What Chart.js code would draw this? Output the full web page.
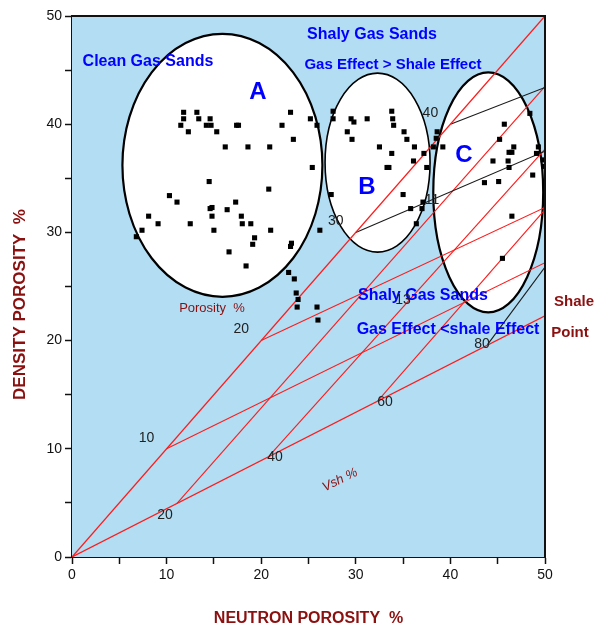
<!DOCTYPE html>
<html>
<head>
<meta charset="utf-8">
<script src="https://cdn.jsdelivr.net/npm/chart.js@4/dist/chart.umd.min.js"></script>
<style>
  html, body { margin: 0; padding: 0; background: #ffffff; }
  #wrap { width: 597px; height: 631px; }
</style>
</head>
<body>
<div id="wrap"><canvas id="chart" width="597" height="631"></canvas></div>
<script>
// Neutron vs density porosity crossplot (values in porosity %)

// Sample points, [neutron, density]
const zoneA = [
  [11.8,41.1],[11.8,40.5],[11.5,39.9],[12.3,39.3],[13.2,41.1],[13.4,40.5],[14.2,39.9],[14.6,40.5],
  [14.7,39.9],[15.3,39.3],[17.4,39.9],[17.6,39.9],[16.2,37.9],[18.6,37.9],[20.9,37.9],[22.2,39.9],
  [23.1,41.1],[23.4,38.6],[25.2,40.5],[25.9,39.9],[25.4,36.0],[14.5,34.7],[20.8,34.0],[10.3,33.4],
  [11.1,32.8],[17.3,32.8],[14.6,32.2],[14.8,32.3],[16.4,32.1],[14.8,31.5],[8.1,31.5],[9.1,30.8],
  [12.5,30.8],[17.9,31.5],[18.0,30.8],[18.9,30.8],[7.4,30.2],[6.8,29.6],[15.0,30.2],[21.0,30.2],
  [19.3,29.5],[19.1,28.9],[23.2,29.0],[23.1,28.7],[16.6,28.2],[18.4,26.9],[22.9,26.3],[23.5,25.7],
  [26.2,30.2],[23.7,24.4],[23.9,23.8],[23.8,23.1],[25.9,23.1],[26.0,21.9]
];
const zoneB = [
  [27.6,41.2],[27.6,40.5],[29.5,40.5],[29.8,40.2],[31.2,40.5],[33.8,41.2],[33.9,40.5],[34.0,39.9],
  [29.1,39.3],[29.6,38.6],[35.1,39.3],[35.4,38.6],[32.5,37.9],[36.2,37.9],[33.8,37.3],[37.2,37.3],
  [36.1,36.6],[33.3,36.0],[33.5,36.0],[37.5,36.0],[27.4,33.5],[35.0,33.5],[35.8,32.2],[37.0,32.2],
  [37.1,32.8],[36.4,30.8]
];
const zoneC = [
  [38.6,39.3],[38.5,38.7],[38.2,37.9],[39.2,37.9],[48.4,41.0],[45.7,40.0],[45.2,38.6],[46.7,37.9],
  [46.2,37.4],[46.5,37.4],[44.5,36.6],[46.1,36.6],[46.2,36.0],[49.3,37.9],[49.1,37.3],[49.8,36.7],
  [49.9,36.1],[48.7,35.3],[43.6,34.6],[45.1,34.7],[46.5,31.5],[45.5,27.6]
];

// Clean sand line and shale line, [neutron, density] end points
const cleanLine = [[0, 0], [50, 50]];
const shaleLine = [[0, 0], [50, 22.3]];

// Constant porosity lines: start on the clean line, end at neutron 50
const porosityValues = [10, 20, 30, 40];
const porosityEndDensity = [27.2, 32.3, 37.5, 43.4];

// Constant shale volume lines: start on the shale line, end at neutron 50
const vshValues = [20, 40, 60, 80];
const vshStartNeutron = [11.1, 20.8, 32.3, 43.9];
const vshStartDensity = [4.95, 9.3, 14.4, 19.6];
const vshEndDensity = [43.5, 37.7, 32.1, 26.8];

// Interpreted zones: name, centre and half-axes in porosity units
const zoneNames = ['A', 'B', 'C'];
const zoneCentres = [[15.9, 36.2], [32.3, 36.45], [44.0, 33.7]];
const zoneHalfAxes = [[10.57, 12.15], [5.55, 8.27], [5.81, 11.09]];

// Axis tick labels
const tickValues = [0, 10, 20, 30, 40, 50];

const RED = '#ff1a1a';
const BLACK = '#1a1a1a';
const BLUE = '#0000ff';
const DARKRED = '#8b1010';
const FONT = "'Liberation Sans', Arial, sans-serif";

const toPts = arr => arr.map(p => ({ x: p[0], y: p[1] }));
const lineSet = (pts, color, width) => ({
  type: 'line', data: toPts(pts), showLine: true, borderColor: color, borderWidth: width,
  pointRadius: 0, pointHoverRadius: 0, fill: false, tension: 0, order: 2
});

const datasets = [];
['zoneA', 'zoneB', 'zoneC'].forEach((name, i) => {
  datasets.push({
    type: 'scatter', label: name, data: toPts([zoneA, zoneB, zoneC][i]),
    pointStyle: 'rect', pointRadius: 3.6, backgroundColor: '#000', borderWidth: 0, order: 0
  });
});
datasets.push(lineSet(cleanLine, RED, 1.3));
datasets.push(lineSet(shaleLine, RED, 1.2));
porosityValues.forEach((phi, i) => {
  datasets.push(lineSet([[phi, phi], [50, porosityEndDensity[i]]], phi >= 30 ? BLACK : RED, 1.1));
});
vshValues.forEach((v, i) => {
  datasets.push(lineSet([[vshStartNeutron[i], vshStartDensity[i]], [50, vshEndDensity[i]]], v >= 80 ? BLACK : RED, 1.1));
});

// Plot background, zone ellipses and frame
const backdrop = {
  id: 'backdrop',
  beforeDatasetsDraw(chart) {
    const { ctx, chartArea: a, scales: { x, y } } = chart;
    ctx.save();
    ctx.fillStyle = '#b2ddf3';
    ctx.fillRect(a.left, a.top, a.right - a.left, a.bottom - a.top);
    zoneCentres.forEach((c, i) => {
      const cx = x.getPixelForValue(c[0]);
      const cy = y.getPixelForValue(c[1]);
      const rx = Math.abs(x.getPixelForValue(c[0] + zoneHalfAxes[i][0]) - cx);
      const ry = Math.abs(y.getPixelForValue(c[1] + zoneHalfAxes[i][1]) - cy);
      ctx.beginPath();
      ctx.ellipse(cx, cy, rx, ry, 0, 0, Math.PI * 2);
      ctx.fillStyle = '#ffffff';
      ctx.fill();
      ctx.lineWidth = i === 1 ? 1.6 : 2.2;
      ctx.strokeStyle = '#000';
      ctx.stroke();
    });
    ctx.restore();
  },
  afterDraw(chart) {
    const { ctx, chartArea: a } = chart;
    ctx.save();
    ctx.strokeStyle = '#111';
    ctx.lineWidth = 2;
    ctx.beginPath();
    ctx.moveTo(a.left, a.top); ctx.lineTo(a.right, a.top); ctx.lineTo(a.right, a.bottom);
    ctx.stroke();
    // vertical axis title, centred a little below the middle of the axis
    ctx.translate(20, (a.top + a.bottom) / 2 + 18);
    ctx.rotate(-Math.PI / 2);
    ctx.font = 'bold 17px ' + FONT;
    ctx.fillStyle = DARKRED;
    ctx.textAlign = 'center';
    ctx.textBaseline = 'middle';
    ctx.fillText('DENSITY POROSITY  %', 0, 0);
    ctx.restore();
  }
};

// Text labels placed in data units
const notes = [
  { t: 'Clean Gas Sands', x: 8.03, y: 45.75, font: 'bold 16px', color: BLUE },
  { t: 'A', x: 19.66, y: 42.9, font: 'bold 24px', color: BLUE },
  { t: 'Shaly Gas Sands', x: 31.71, y: 48.24, font: 'bold 16px', color: BLUE },
  { t: 'Gas Effect > Shale Effect', x: 33.93, y: 45.47, font: 'bold 15px', color: BLUE },
  { t: 'B', x: 31.18, y: 34.14, font: 'bold 24px', color: BLUE },
  { t: 'C', x: 41.44, y: 37.15, font: 'bold 24px', color: BLUE },
  { t: 'Shaly Gas Sands', x: 37.1, y: 24.12, font: 'bold 16px', color: BLUE },
  { t: 'Gas Effect <shale Effect', x: 39.75, y: 20.98, font: 'bold 16px', color: BLUE },
  { t: 'Shale', x: 53.07, y: 23.57, font: 'bold 15px', color: DARKRED },
  { t: 'Point', x: 52.64, y: 20.7, font: 'bold 15px', color: DARKRED },
  { t: 'Porosity  %', x: 14.8, y: 23.01, font: '13px', color: DARKRED },
  { t: 'Vsh %', x: 28.33, y: 7.12, font: 'italic 13px', color: DARKRED, rot: -0.45 },
  { t: '11', x: 38.05, y: 32.99, font: '14px', color: '#222' },
  { t: '13', x: 34.99, y: 23.75, font: '14px', color: '#222' }
];
// porosity labels beside the clean line, shale volume labels along the shale line
const phiLabelOffset = [-20, -11];
const vshLabelPos = [[9.83, 3.88], [21.46, 9.24], [33.09, 14.33], [43.34, 19.69]];

const labels = {
  id: 'labels',
  afterDatasetsDraw(chart) {
    const { ctx, scales: { x, y } } = chart;
    ctx.save();
    ctx.textAlign = 'center';
    ctx.textBaseline = 'middle';
    const put = (t, px, py, font, color, rot) => {
      ctx.save();
      ctx.translate(px, py);
      if (rot) ctx.rotate(rot);
      ctx.font = font + ' ' + FONT;
      ctx.fillStyle = color;
      ctx.fillText(t, 0, 0);
      ctx.restore();
    };
    porosityValues.forEach(phi => {
      put(String(phi), x.getPixelForValue(phi) + phiLabelOffset[0], y.getPixelForValue(phi) + phiLabelOffset[1], '14px', '#222');
    });
    vshValues.forEach((v, i) => {
      put(String(v), x.getPixelForValue(vshLabelPos[i][0]), y.getPixelForValue(vshLabelPos[i][1]), '14px', '#222');
    });
    notes.forEach(n => put(n.t, x.getPixelForValue(n.x), y.getPixelForValue(n.y), n.font, n.color, n.rot));
    ctx.restore();
  }
};

const axisCommon = {
  type: 'linear', min: 0, max: 50,
  ticks: {
    stepSize: 5, color: '#111', padding: 3,
    font: { family: FONT, size: 14 },
    callback: v => (tickValues.includes(v) ? String(v) : '')
  },
  grid: { drawOnChartArea: false, drawTicks: true, tickLength: 7, color: '#111', tickWidth: 1.5 },
  border: { display: true, color: '#111', width: 2 }
};

new Chart(document.getElementById('chart'), {
  type: 'scatter',
  data: { datasets },
  options: {
    responsive: false,
    animation: false,
    devicePixelRatio: 1,
    layout: { padding: { left: 0, top: 16, right: 52, bottom: 0 } },
    plugins: { legend: { display: false }, tooltip: { enabled: false } },
    scales: {
      x: Object.assign({}, axisCommon, {
        position: 'bottom',
        title: { display: true, text: 'NEUTRON POROSITY  %', color: DARKRED, font: { family: FONT, size: 16, weight: 'bold' }, padding: { top: 0, bottom: 3 } },
        afterFit: s => { s.height = 74; }
      }),
      y: Object.assign({}, axisCommon, {
        position: 'left',
        afterFit: s => { s.width = 72; }
      })
    }
  },
  plugins: [backdrop, labels]
});
</script>
</body>
</html>
